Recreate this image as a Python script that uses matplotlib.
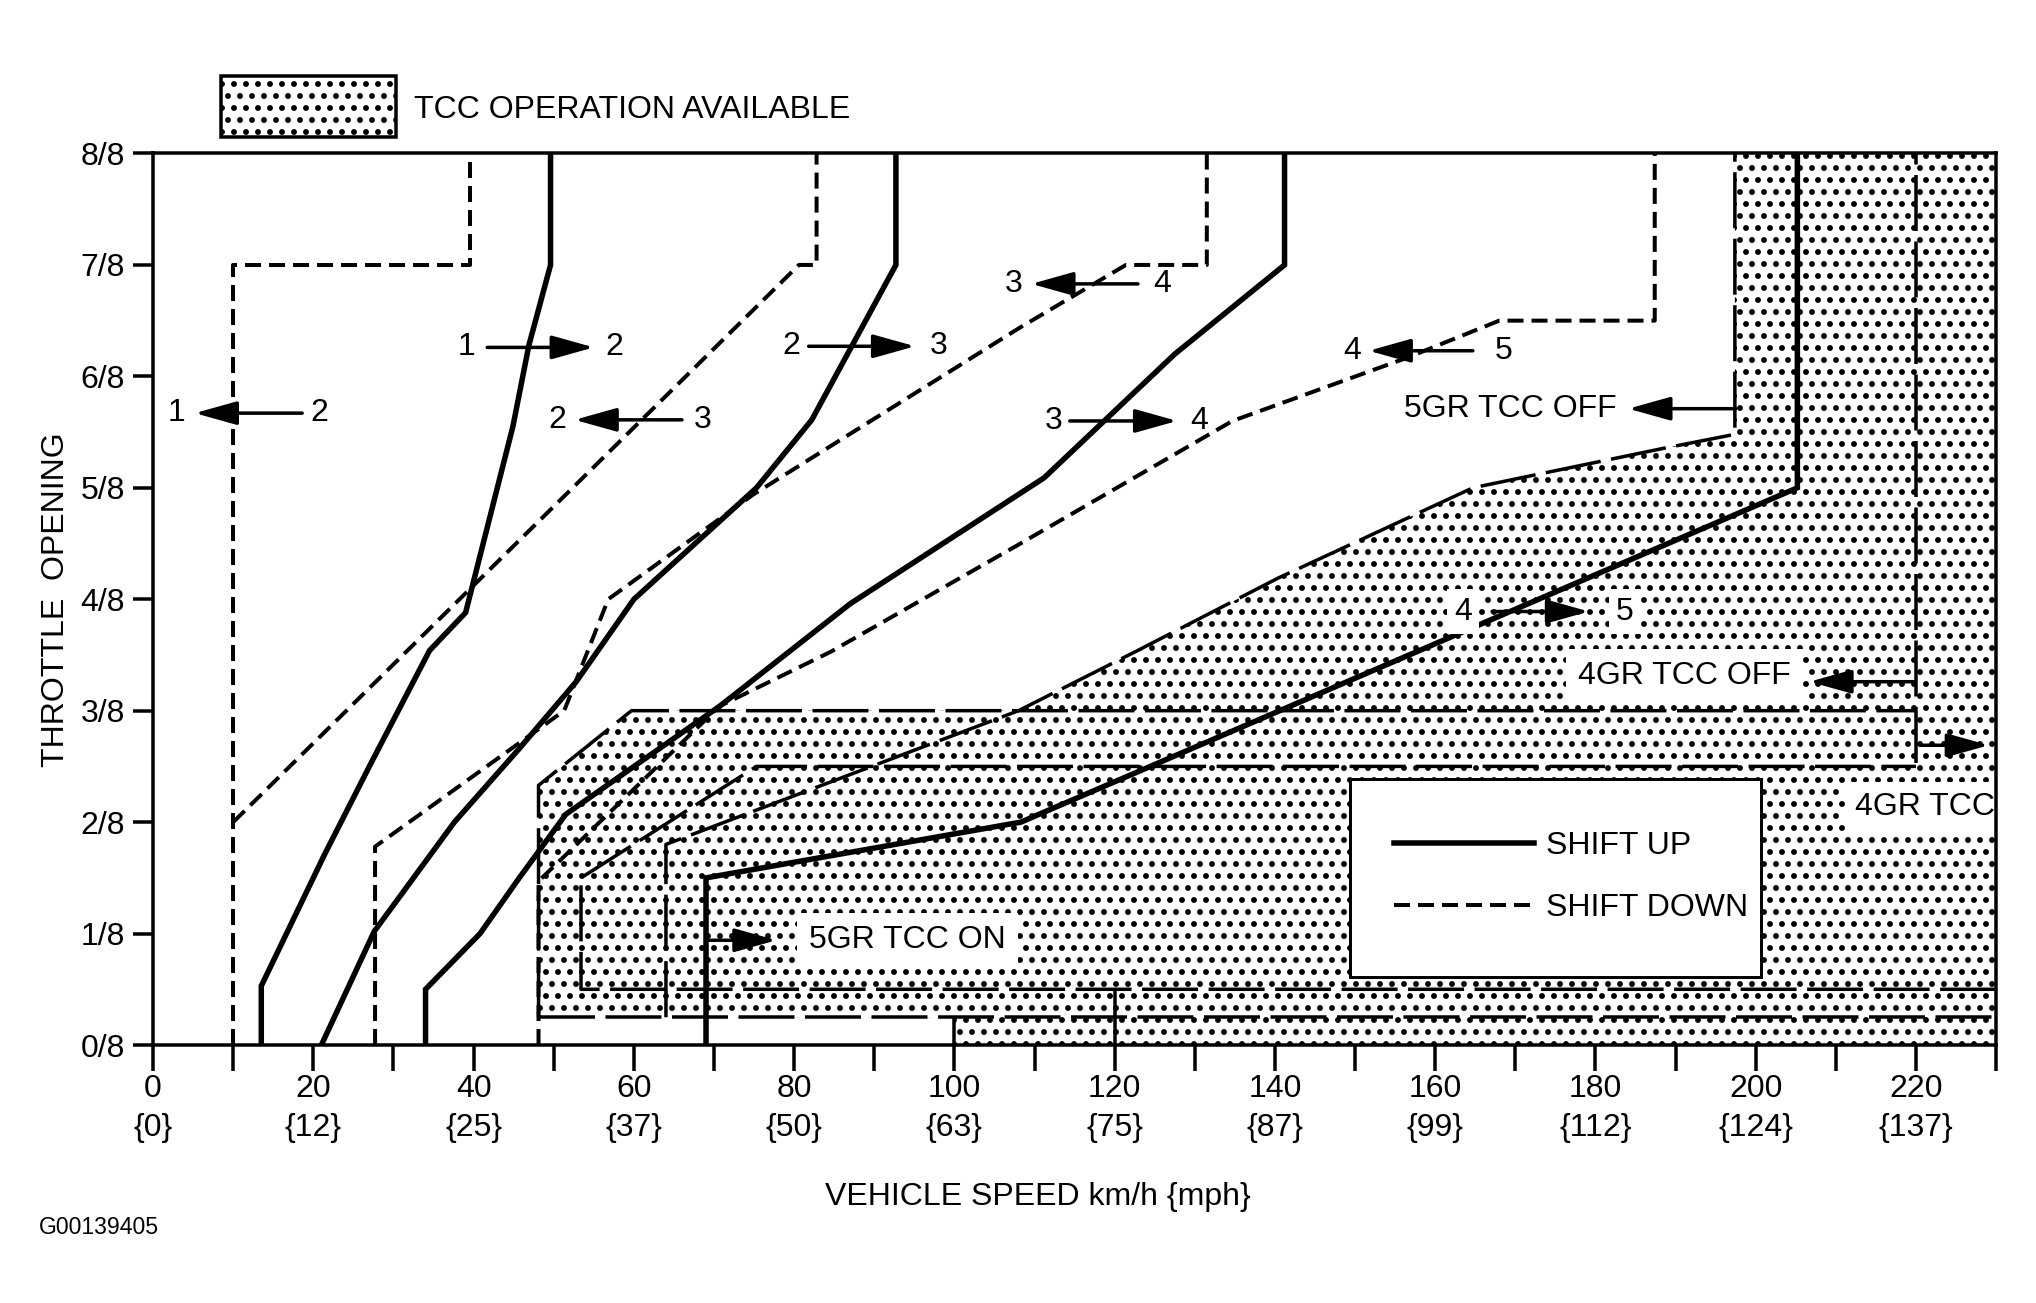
import numpy as np
import matplotlib
matplotlib.use("Agg")
import matplotlib.pyplot as plt
from matplotlib.patches import Rectangle

# shift-up lines: vehicle speed (km/h) vs throttle opening (eighths)
up12_x = [13.5, 13.5, 21.4, 27.2, 34.5, 39.0, 44.9, 46.9, 49.6, 49.6]
up12_y = [0.0, 0.53, 1.71, 2.53, 3.54, 3.88, 5.55, 6.28, 7.0, 8.0]
up23_x = [21.0, 27.6, 37.6, 45.7, 52.8, 60.0, 75.3, 82.2, 92.7, 92.7]
up23_y = [0.0, 1.02, 2.0, 2.66, 3.26, 4.0, 5.0, 5.61, 7.0, 8.0]
up34_x = [34.0, 34.0, 40.8, 45.7, 51.5, 70.7, 87.0, 111.2, 127.5, 141.2, 141.2]
up34_y = [0.0, 0.5, 1.0, 1.5, 2.07, 3.04, 3.96, 5.09, 6.2, 7.0, 8.0]
up45_x = [69.0, 69.0, 108.3, 205.2, 205.2]
up45_y = [0.0, 1.5, 2.0, 5.0, 8.0]

# shift-down lines
dn21_x = [10.0, 10.0, 39.5, 39.5]
dn21_y = [0.0, 7.0, 7.0, 8.0]
dn32_x = [10.0, 80.6, 82.8, 82.8]
dn32_y = [2.0, 7.0, 7.0, 8.0]
dn43_x = [27.7, 27.7, 51.3, 56.8, 74.9, 108.0, 121.4, 131.5, 131.5]
dn43_y = [0.0, 1.78, 3.0, 4.0, 4.94, 6.43, 7.0, 7.0, 8.0]
dn54_x = [48.1, 48.1, 70.7, 84.6, 108.0, 134.7, 156.6, 168.0, 187.4, 187.4]
dn54_y = [0.0, 1.47, 3.04, 3.53, 4.49, 5.6, 6.17, 6.5, 6.5, 8.0]

# TCC on/off lines
tcc_a_x = [48.1, 48.1, 59.7, 220.0]
tcc_a_y = [0.25, 2.33, 3.0, 3.0]
tcc_b_x = [230.0, 53.4, 53.4, 75.3, 220.0]
tcc_b_y = [0.5, 0.5, 1.5, 2.5, 2.5]
tcc_c_x = [64.0, 64.0, 108.0, 122.6, 140.4, 164.7, 188.2, 197.4, 197.4]
tcc_c_y = [0.25, 1.8, 3.0, 3.53, 4.19, 5.0, 5.35, 5.48, 8.0]
tcc_low_x = [48.1, 230.0]
tcc_low_y = [0.25, 0.25]
tcc_4gr_x = 220.0
tcc_4gr_y = [2.53, 8.0]
strip_end = 100.0
marks_x = [100.0, 120.0]
marks_top = [0.25, 0.5]

km_ticks = [0, 20, 40, 60, 80, 100, 120, 140, 160, 180, 200, 220]
mph_ticks = [0, 12, 25, 37, 50, 63, 75, 87, 99, 112, 124, 137]
y_labels = [f"{i}/8" for i in range(9)]

# (left label, x, arrow tail, arrow head, right label, x, y)
shift_marks = [
    ("1", 2.9, 18.6, 5.2, "2", 20.7, 5.67),
    ("1", 39.1, 41.7, 55.0, "2", 57.5, 6.26),
    ("2", 50.4, 66.0, 52.6, "3", 68.6, 5.61),
    ("2", 79.6, 81.8, 95.1, "3", 98.0, 6.27),
    ("3", 107.4, 122.9, 109.6, "4", 125.9, 6.83),
    ("3", 112.4, 114.4, 127.8, "4", 130.5, 5.60),
    ("4", 149.7, 164.7, 151.7, "5", 168.6, 6.23),
]
# (text, x, y, boxed, arrow tail, arrow head, arrow y)
tcc_marks = [
    ("5GR TCC OFF", 169.4, 5.71, False, 197.5, 184.1, 5.71),
    ("4GR TCC OFF", 191.1, 3.31, True, 219.8, 206.7, 3.26),
    ("", 0, 0, False, 220.6, 229.1, 2.69),
    ("5GR TCC ON", 94.1, 0.94, True, 69.1, 77.8, 0.94),
]

plt.rcParams['font.family'] = ['Liberation Sans', 'DejaVu Sans']
plt.rcParams['hatch.linewidth'] = 3.4
plt.rcParams['hatch.color'] = 'black'

DPI = 72
fig = plt.figure(figsize=(2036 / DPI, 1303 / DPI), dpi=DPI)
ax = fig.add_axes([0.0752, 0.198, 0.9052, 0.6842])
FS = 32

shade_x = tcc_a_x[:3] + tcc_c_x[2:] + [230, 230, strip_end, strip_end]
shade_y = tcc_a_y[:3] + tcc_c_y[2:] + [8, 0, 0, 0.25]
ax.fill(shade_x, shade_y, facecolor='white', edgecolor='black', hatch='.',
        linewidth=0, zorder=1)

SOLID = dict(color='black', lw=5.5, solid_joinstyle='miter', zorder=3)
DASH = dict(color='black', lw=4.0, linestyle=(0, (4, 2)), zorder=3)
LONG = dict(color='black', lw=3.5, linestyle=(0, (16, 3)), zorder=2)

h_up = ax.plot(up12_x, up12_y, **SOLID)[0]
ax.plot(up23_x, up23_y, **SOLID)
ax.plot(up34_x, up34_y, **SOLID)
ax.plot(up45_x, up45_y, **SOLID)
h_dn = ax.plot(dn21_x, dn21_y, **DASH)[0]
ax.plot(dn32_x, dn32_y, **DASH)
ax.plot(dn43_x, dn43_y, **DASH)
ax.plot(dn54_x, dn54_y, **DASH)

ax.plot(tcc_a_x, tcc_a_y, **LONG)
ax.plot(tcc_b_x, tcc_b_y, **LONG)
ax.plot(tcc_c_x, tcc_c_y, **LONG)
ax.plot(tcc_low_x, tcc_low_y, **LONG)
ax.vlines(tcc_4gr_x, *tcc_4gr_y, color='black', lw=3.5, linestyle=(0, (16, 3)), zorder=2)
ax.vlines(marks_x, 0, marks_top, color='black', lw=3.5, zorder=2)


def arrow(x0, x1, y):
    ax.annotate('', xy=(x1, y), xytext=(x0, y), zorder=7,
                arrowprops=dict(arrowstyle='-|>,head_length=1.5,head_width=0.42',
                                mutation_scale=24, lw=3.5, color='black',
                                shrinkA=0, shrinkB=0))


for a, xa, t0, t1, b, xb, y in shift_marks:
    ax.text(xa, y, a, ha='center', va='center', fontsize=FS, zorder=6)
    ax.text(xb, y, b, ha='center', va='center', fontsize=FS, zorder=6)
    arrow(t0, t1, y)

# 4 -> 5 upshift label sits on the shaded area
box = dict(facecolor='white', edgecolor='none', pad=7)
ax.text(163.5, 3.89, "4", ha='center', va='center', fontsize=FS, zorder=6, bbox=box)
ax.text(183.7, 3.89, "5", ha='center', va='center', fontsize=FS, zorder=6, bbox=box)
arrow(167.1, 179.2, 3.89)

for s, x, y, boxed, t0, t1, ay in tcc_marks:
    if s:
        ax.text(x, y, s, ha='center', va='center', fontsize=FS, zorder=6,
                bbox=dict(facecolor='white', edgecolor='none', pad=12) if boxed else None)
    arrow(t0, t1, ay)
ax.text(212.4, 2.14, "4GR TCC", ha='left', va='center', fontsize=FS, zorder=6,
        clip_on=True, bbox=dict(facecolor='white', edgecolor='none', pad=10))

# legend
ax.add_patch(Rectangle((149.4, 0.61), 51.3, 1.78, facecolor='white',
                       edgecolor='black', lw=3, zorder=5))
leg = ax.legend([h_up, h_dn], ["SHIFT UP", "SHIFT DOWN"], frameon=False,
                loc='center left', bbox_to_anchor=(154.8, 1.51),
                bbox_transform=ax.transData, fontsize=FS, handlelength=4.375,
                handletextpad=0.375, labelspacing=1.0, borderpad=0, borderaxespad=0)
leg.set_zorder(6)

ax.set_xlim(0, 230)
ax.set_ylim(0, 8)
ax.set_xticks(km_ticks)
ax.set_xticklabels([f"{k}\n{{{m}}}" for k, m in zip(km_ticks, mph_ticks)])
ax.set_xticks(np.arange(10, 231, 20), minor=True)
ax.set_yticks(range(9))
ax.set_yticklabels(y_labels)
for lbl in ax.get_xticklabels():
    lbl.set_linespacing(1.4)
ax.tick_params(axis='x', which='both', length=26, width=3.5, labelsize=FS, pad=3)
ax.tick_params(axis='y', length=20, width=3.5, labelsize=FS, pad=8)
for sp in ax.spines.values():
    sp.set_linewidth(3.5)
    sp.set_zorder(8)

ax.set_ylabel("THROTTLE  OPENING", fontsize=FS)
ax.yaxis.set_label_coords(-0.0448, 0.5)
ax.set_xlabel("VEHICLE SPEED km/h {mph}", fontsize=FS)
ax.xaxis.set_label_coords(110.4 / 230, -0.1537)

fig.patches.append(Rectangle((0.1085, 0.8949), 0.086, 0.0468, transform=fig.transFigure,
                             facecolor='white', edgecolor='black', hatch='.', lw=3.5))
fig.text(0.2035, 0.9156, "TCC OPERATION AVAILABLE", va='center', fontsize=FS)
fig.text(0.0192, 0.058, "G00139405", va='center', fontsize=23)

fig.savefig("out.png", dpi=DPI)
